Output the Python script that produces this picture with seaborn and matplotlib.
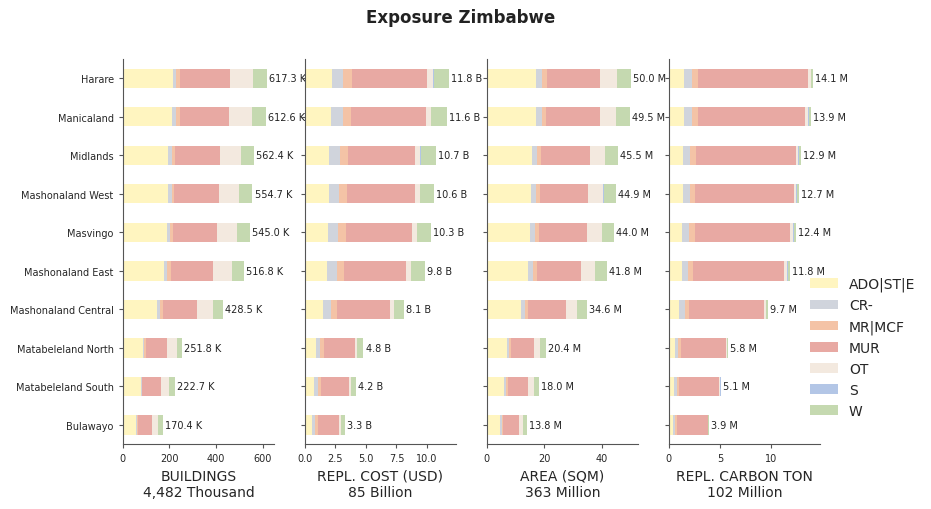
import numpy as np
import pandas as pd
import seaborn as sns
import matplotlib.pyplot as plt
from matplotlib.patches import Patch

regions = ['Harare', 'Manicaland', 'Midlands', 'Mashonaland West', 'Masvingo',
           'Mashonaland East', 'Mashonaland Central', 'Matabeleland North',
           'Matabeleland South', 'Bulawayo']
categories = ['ADO|ST|E', 'CR-', 'MR|MCF', 'MUR', 'OT', 'S', 'W']
colors = ['#fff5c0', '#d0d4dc', '#f4c3a6', '#e8a9a3', '#f3e9df', '#b3c6e6', '#c5d9b0']

# buildings, thousands
buildings = {
    'ADO|ST|E': [214.0, 211.0, 194.5, 194.8, 190.0, 178.0, 146.8, 88.0, 80.0, 58.5],
    'CR-':      [14.2, 17.0, 14.2, 14.2, 12.8, 12.8, 12.8, 2.0, 1.8, 2.5],
    'MR|MCF':   [17.0, 17.0, 15.6, 11.3, 12.8, 17.0, 12.8, 10.8, 2.5, 3.4],
    'MUR':      [214.0, 209.5, 193.0, 193.5, 188.5, 176.7, 145.2, 86.5, 78.0, 61.5],
    'OT':       [98.0, 98.0, 89.3, 85.1, 85.1, 80.8, 68.1, 43.0, 36.3, 26.5],
    'S':        [0.5, 0.5, 0.5, 0.5, 0.5, 0.5, 0.3, 0.3, 0.0, 0.0],
    'W':        [59.6, 59.6, 55.3, 55.3, 55.3, 51.0, 42.5, 21.2, 24.1, 18.0],
}
# replacement cost, billion USD
repl_cost = {
    'ADO|ST|E': [2.23, 2.15, 1.98, 1.98, 1.90, 1.82, 1.49, 0.92, 0.76, 0.60],
    'CR-':      [0.92, 1.00, 0.90, 0.82, 0.82, 0.84, 0.65, 0.33, 0.33, 0.25],
    'MR|MCF':   [0.71, 0.63, 0.65, 0.65, 0.65, 0.54, 0.46, 0.33, 0.25, 0.25],
    'MUR':      [6.15, 6.11, 5.52, 5.58, 5.38, 5.12, 4.35, 2.57, 2.29, 1.72],
    'OT':       [0.49, 0.41, 0.41, 0.41, 0.41, 0.33, 0.33, 0.16, 0.16, 0.16],
    'S':        [0.05, 0.05, 0.05, 0.02, 0.05, 0.01, 0.00, 0.00, 0.00, 0.00],
    'W':        [1.25, 1.25, 1.19, 1.14, 1.09, 1.14, 0.82, 0.49, 0.41, 0.32],
}
# area, million sqm
area = {
    'ADO|ST|E': [17.10, 17.10, 15.68, 15.33, 15.05, 14.29, 11.95, 7.20, 6.10, 4.70],
    'CR-':      [2.07, 2.07, 1.73, 1.73, 1.73, 1.73, 1.38, 0.69, 0.69, 0.58],
    'MR|MCF':   [1.73, 1.38, 1.38, 1.38, 1.38, 1.38, 1.04, 0.69, 0.69, 0.46],
    'MUR':      [18.40, 18.61, 17.00, 16.80, 16.50, 15.40, 13.00, 7.80, 6.70, 5.30],
    'OT':       [5.88, 5.53, 5.19, 5.19, 5.19, 4.84, 3.80, 2.08, 2.07, 1.38],
    'S':        [0.02, 0.20, 0.02, 0.20, 0.00, 0.01, 0.20, 0.10, 0.02, 0.00],
    'W':        [4.84, 4.61, 4.50, 4.27, 4.15, 4.15, 3.23, 1.84, 1.73, 1.38],
}
# replacement carbon, million ton
carbon = {
    'ADO|ST|E': [1.49, 1.49, 1.40, 1.40, 1.30, 1.30, 1.01, 0.62, 0.52, 0.42],
    'CR-':      [0.78, 0.78, 0.68, 0.68, 0.68, 0.58, 0.58, 0.29, 0.29, 0.20],
    'MR|MCF':   [0.58, 0.58, 0.58, 0.49, 0.58, 0.49, 0.39, 0.29, 0.20, 0.20],
    'MUR':      [10.75, 10.46, 9.77, 9.67, 9.33, 8.93, 7.33, 4.40, 3.93, 3.03],
    'OT':       [0.26, 0.26, 0.20, 0.20, 0.29, 0.29, 0.20, 0.10, 0.06, 0.03],
    'S':        [0.05, 0.16, 0.08, 0.08, 0.03, 0.02, 0.00, 0.00, 0.08, 0.00],
    'W':        [0.19, 0.17, 0.19, 0.18, 0.19, 0.19, 0.19, 0.10, 0.02, 0.02],
}

panels = [
    (buildings, 'BUILDINGS', 'K', 'Thousand', '{:,.0f}'),
    (repl_cost, 'REPL. COST (USD)', 'B', 'Billion', '{:.0f}'),
    (area, 'AREA (SQM)', 'M', 'Million', '{:.0f}'),
    (carbon, 'REPL. CARBON TON', 'M', 'Million', '{:.0f}'),
]

sns.set_style("ticks")
plt.rcParams.update({'font.family': ['DejaVu Sans']})

fig = plt.figure(figsize=(9.31, 5.10), dpi=100)
lefts = [0.1318, 0.3273, 0.5228, 0.7183]

for i, (data, title, unit, word, fmt) in enumerate(panels):
    ax = fig.add_axes([lefts[i], 0.1269, 0.1628, 0.7555])
    ax.set_facecolor('none')
    df = pd.DataFrame(data, index=regions)[categories]
    cum = df.cumsum(axis=1)
    # draw from the outermost stack inwards so each segment shows
    for cat, col in reversed(list(zip(categories, colors))):
        sns.barplot(x=cum[cat].values, y=regions, orient='h', color=col,
                    saturation=1, width=0.5, linewidth=0, edgecolor='none',
                    ax=ax, zorder=2)
    totals = df.sum(axis=1)
    for j, tot in enumerate(totals):
        ax.annotate(f'{tot:.1f} {unit}', (tot, j), xytext=(1.5, 0),
                    textcoords='offset points', va='center', ha='left',
                    fontsize=7, color='#222222', annotation_clip=False, zorder=5)
    ax.set_xlim(0, totals.max() * 1.05)
    ax.set_ylim(len(regions) - 0.5, -0.5)
    ax.set_xlabel(f'{title}\n{fmt.format(totals.sum())} {word}', fontsize=10)
    ax.set_ylabel('')
    ax.tick_params(axis='both', labelsize=7, length=3, color='#555555')
    if i > 0:
        ax.set_yticklabels([])
    for s in ['left', 'bottom']:
        ax.spines[s].set_color('#555555')
    sns.despine(ax=ax)

handles = [Patch(facecolor=c, edgecolor='none', label=l) for l, c in zip(categories, colors)]
fig.legend(handles=handles, loc='center left', bbox_to_anchor=(0.864, 0.317),
           frameon=False, fontsize=10, borderaxespad=0)

fig.suptitle('Exposure Zimbabwe', x=0.495, y=0.965, va='center',
             fontsize=12, fontweight='bold', color='#222222')

fig.savefig('out.png', dpi=100)
